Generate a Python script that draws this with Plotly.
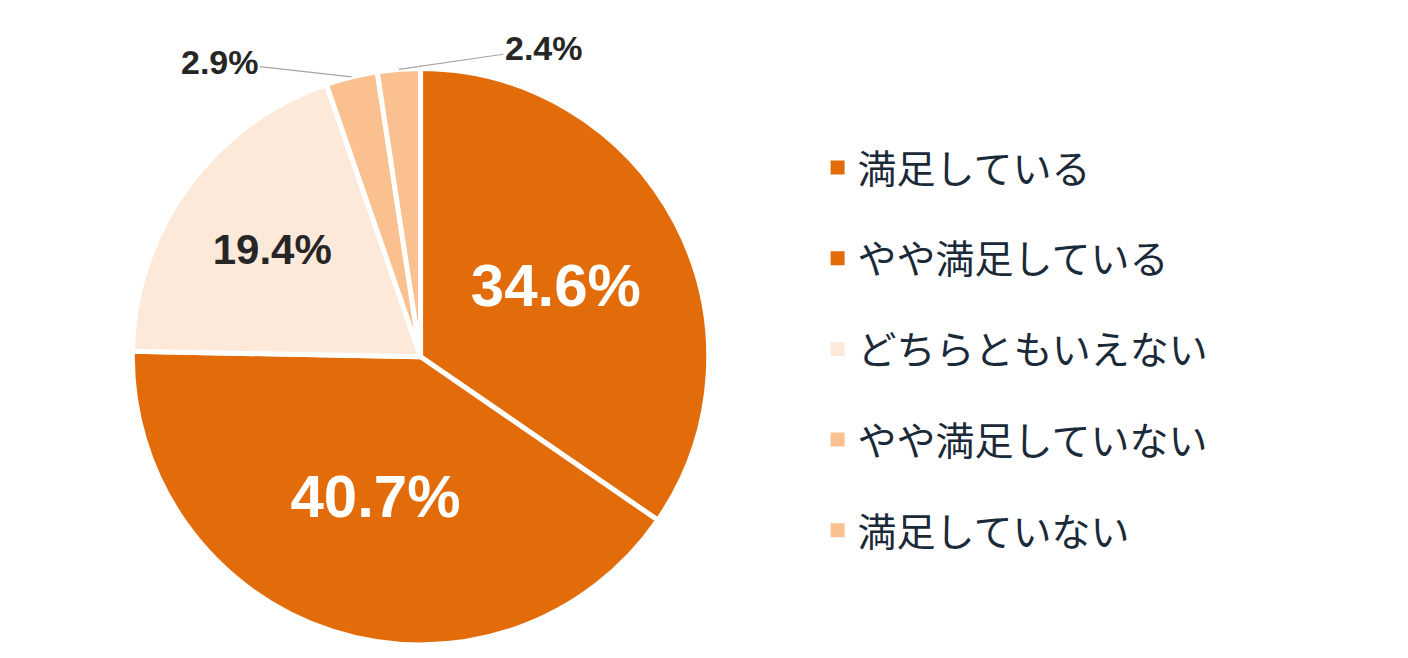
import math
import plotly.graph_objects as go

labels = ['満足している', 'やや満足している', 'どちらともいえない', 'やや満足していない', '満足していない']
values = [34.6, 40.7, 19.4, 2.9, 2.4]
colors = ['#E36C0A', '#E36C0A', '#FDE9D9', '#FAC090', '#FAC090']

# small slices get an outside label with a leader line
inside = [True, True, True, False, False]
text_sizes = [60, 60, 42, 34, 34]
text_colors = ['white', 'white', '#262626', '#262626', '#262626']
label_offsets = [None, None, None, (-132, -15), (145, -21)]  # px from slice edge

W, H = 1408, 658
dom_x = [0.088, 0.498]
dom_y = [0.032, 0.908]

fig = go.Figure()
fig.add_trace(go.Pie(
    labels=labels,
    values=values,
    sort=False,
    direction='clockwise',
    rotation=0,
    marker=dict(colors=colors, line=dict(color='white', width=5)),
    texttemplate='%{value:.1f}%',
    textposition=['inside' if f else 'none' for f in inside],
    insidetextorientation='horizontal',
    textfont=dict(family='Liberation Sans', size=text_sizes, color=text_colors, weight='bold'),
    showlegend=False,
    hoverinfo='label+percent',
    domain=dict(x=dom_x, y=dom_y),
))

# outside labels, anchored at the middle of each small slice's rim
cx = sum(dom_x) / 2
cy = sum(dom_y) / 2
r = min((dom_x[1] - dom_x[0]) * W, (dom_y[1] - dom_y[0]) * H) / 2
total = sum(values)
cum = 0
for v, f, off, size, col in zip(values, inside, label_offsets, text_sizes, text_colors):
    mid = (cum + v / 2) / total * 2 * math.pi
    cum += v
    if f:
        continue
    fig.add_annotation(
        x=cx + r * math.sin(mid) / W, y=cy + r * math.cos(mid) / H,
        xref='paper', yref='paper',
        text=f'{v:.1f}%',
        showarrow=True, arrowhead=0, arrowwidth=1.2, arrowcolor='#A6A6A6',
        ax=off[0], ay=off[1],
        font=dict(family='Liberation Sans', size=size, color=col, weight='bold'),
    )

# legend entries (separate traces so the spacing can be set)
for lab, col in zip(labels, colors):
    fig.add_trace(go.Scatter(
        x=[None], y=[None], mode='markers', name=lab,
        marker=dict(symbol='square', size=14, color=col),
        legendgroup=lab, showlegend=True,
    ))

fig.update_layout(
    width=W, height=H,
    margin=dict(l=0, r=0, t=0, b=0),
    paper_bgcolor='white', plot_bgcolor='white',
    xaxis=dict(visible=False), yaxis=dict(visible=False),
    legend=dict(
        x=0.575, y=0.806, xanchor='left', yanchor='top',
        font=dict(family='Noto Sans CJK JP', size=39, color='#1B2A38'),
        tracegroupgap=37,
        itemclick=False, itemdoubleclick=False,
    ),
)

fig.write_html('out.html')
